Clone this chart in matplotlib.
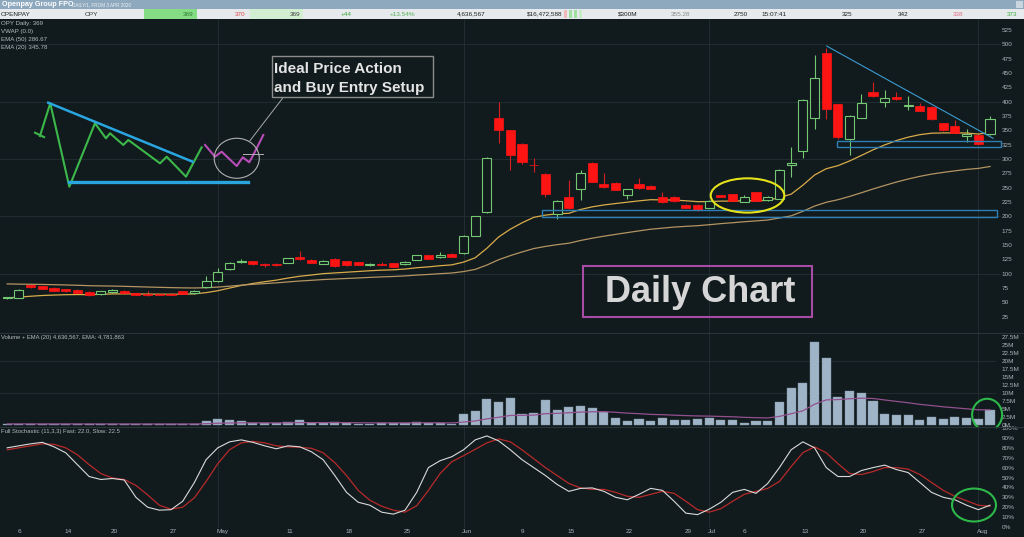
import numpy as np
import matplotlib
matplotlib.use('Agg')
import matplotlib.pyplot as plt
from matplotlib.patches import Rectangle, Ellipse
import matplotlib.transforms as mtrans

plt.rcParams['font.family'] = ['Liberation Sans', 'DejaVu Sans']

# ---------------- data (daily bars from 3 Apr 2020) ----------------
opens = [57, 58, 80, 78, 75.5, 73, 72, 68, 64.5, 68, 70, 66, 64.5, 64, 65, 69, 66, 76, 87, 108,
         121, 121.5, 117.5, 117, 118.5, 129.5, 124, 117.5, 126, 121.5, 120, 115.5, 117.5, 118, 116, 124, 132, 128.5, 135,
         135.5, 166, 207, 371, 350, 326, 290, 274, 204, 234, 248, 293, 256, 258, 238, 256, 253, 233, 234, 220, 220,
         215, 236.5, 238.5, 225.5, 242, 228, 231, 289, 314, 371, 484, 395, 335, 372, 416, 400, 407.5, 392, 393, 391,
         362, 358, 340.5, 342, 343]
highs = [60, 74, 82, 79, 77, 74, 73, 69, 70, 73, 71, 67, 70, 65, 66, 70, 71, 96, 109, 120,
         125, 122, 118, 118, 128, 140, 125, 123, 127, 122, 121, 118, 121, 119, 122, 133, 133, 137, 136,
         167, 201, 303, 400, 351, 327, 301, 275, 228, 263, 281, 294, 276, 259, 248, 266, 254, 243, 235, 221, 221,
         228, 238, 239, 237, 243, 236, 283, 321, 404, 481, 493, 396, 376, 414, 435, 420, 417, 410, 397, 392,
         363, 368, 352, 343, 375]
lows = [55, 57, 75, 73, 69, 68, 65, 61, 63, 67, 65, 62, 61, 62, 62, 64, 65, 75, 86, 107,
        118, 115, 112, 114, 118, 124, 118, 116, 112, 114, 115, 114, 115, 111, 115, 123, 125, 128, 129,
        135, 165, 205, 327, 281, 292, 278, 233, 196, 213, 228, 259, 250, 245, 231, 248, 247, 224, 225, 214, 210,
        214, 233, 226, 225, 227, 227, 230, 269, 301, 353, 369, 335, 307, 371, 408, 391, 403, 385, 383, 368,
        349, 345, 330, 325, 342]
closes = [59, 71, 76, 74, 70, 69, 66, 62, 69, 71, 66, 63, 62, 63, 63, 65, 70, 87, 102, 118.5,
          122.5, 116, 115, 114.5, 127, 125, 118.5, 122.5, 113, 114.5, 115.5, 117.5, 115.5, 112, 121, 132, 126, 133, 129.5,
          165.5, 200, 302, 350, 307, 294, 289, 239, 226, 214, 275, 260, 251, 246, 247, 249, 248, 225, 226, 215, 211,
          227, 234, 227, 233, 227.5, 233, 281, 293, 403, 441, 387, 339, 375, 397, 409, 406, 404.5, 394, 384, 369,
          350, 346, 343.5, 326, 369]
volume_m = [0.2, 0.4, 0.3, 0.3, 0.4, 0.3, 0.3, 0.3, 0.3, 0.3, 0.3, 0.3, 0.3, 0.3, 0.3, 0.3, 0.4, 1.25, 1.8, 1.5,
            1.1, 0.6, 0.5, 0.6, 0.9, 1.5, 0.6, 0.7, 0.9, 0.6, 0.4, 0.4, 0.5, 0.6, 0.7, 1.0, 0.7, 0.5, 0.4,
            3.5, 4.5, 8.1, 7.2, 8.4, 3.3, 3.75, 7.8, 4.6, 5.7, 5.9, 5.3, 4.2, 2.2, 1.25, 1.9, 1.25, 2.3, 1.6, 1.7, 1.8,
            2.3, 1.6, 1.7, 0.6, 1.35, 1.35, 7.3, 11.5, 13.0, 26.0, 20.8, 8.85, 10.7, 9.9, 7.6, 3.4, 3.1, 3.0, 1.6, 2.6,
            1.9, 2.4, 2.1, 1.8, 4.6]
stoch_fast = [80, 82, 84, 85.5, 81, 75, 63, 51, 48, 49, 47.5, 30, 20, 17, 17.5, 26, 45, 68, 80, 86,
              88, 85.5, 82, 79, 82, 81, 76, 68, 52, 35, 25, 22, 15, 13, 17, 35, 60, 67, 71,
              78, 88, 92, 87, 78, 68, 60, 52, 43, 36, 39, 39.5, 36, 30, 27.5, 33, 39, 37, 26, 14, 12.5,
              18, 25, 35, 38, 34, 44, 60, 78, 86, 80, 60, 51, 51, 57, 60, 62.5, 58, 55, 45, 35,
              30, 27.5, 22, 17.5, 22]
stoch_slow = [78, 80, 82, 84, 83.5, 80, 73, 63, 54, 49.5, 48, 42, 32.5, 22, 18, 20, 29.5, 46, 64, 78,
              85, 86.5, 85, 82, 81, 80.5, 79.5, 75, 65, 52, 37, 27, 21, 17, 15, 21.5, 37, 54, 66,
              72, 78.5, 85, 89, 86, 78, 69, 60, 52, 44, 39.5, 38, 38, 35, 31, 30, 33, 36, 34, 26, 17.5,
              15, 18.5, 26, 33, 36, 39, 46, 61, 75, 81, 75, 64, 54, 53, 56, 60, 60, 58.5, 53, 45,
              37, 31, 26.5, 22, 21]
tick_idx = [1, 5, 9, 14, 18, 24, 29, 34, 39, 44, 48, 53, 58, 60, 63, 68, 73, 78, 83]
tick_lbl = ['6', '14', '20', '27', 'May', '11', '18', '25', 'Jun', '9', '15', '22', '29', 'Jul',
            '6', '13', '20', '27', 'Aug']
month_idx = [18, 39, 60, 83]
price_ticks = list(range(25, 526, 25))
vol_ticks = [0, 2.5, 5, 7.5, 10, 12.5, 15, 17.5, 20, 22.5, 25, 27.5]
vol_tick_lbl = ['0M', '2.5M', '5M', '7.5M', '10M', '12.5M', '15M', '17.5M', '20M', '22.5M', '25M', '27.5M']
stoch_ticks = list(range(0, 101, 10))

# annotation drawings (bar index, price)
pat_tick_x, pat_tick_y = [2.38, 3.15], [345.8, 338.1]
pat_x = [2.8, 3.68, 5.31, 7.5, 8.44, 8.79, 9.92, 10.35, 13.06, 13.63, 15.28, 16.62]
pat_y = [340, 397.1, 251.6, 362.2, 336, 344.8, 324.4, 333.1, 292.4, 303.9, 269.1, 320.3]
pat_trend_x, pat_trend_y = [3.51, 15.85], [398.1, 295.2]
pat_supp_x, pat_supp_y = [5.31, 20.56], [260.3, 260.3]
pat_mag_x = [16.91, 17.76, 18.33, 19.62, 20.13, 20.69, 21.03, 21.89]
pat_mag_y = [324.4, 303.9, 312.7, 287.7, 302.9, 294.2, 306.9, 341.8]
trend_x, trend_y = [70.04, 84.26], [497, 336]

BG = '#111a1d'
GRID = '#243034'
LBL = '#aab3b7'
W, H = 1024, 537

fig = plt.figure(figsize=(W / 100, H / 100), dpi=100, facecolor=BG)


def rect(top, bottom, left=0, right=996):
    return [left / W, 1 - bottom / H, (right - left) / W, (bottom - top) / H]


def frect(x0, y0, x1, y1, color, z=1):
    fig.patches.append(Rectangle((x0 / W, 1 - y1 / H), (x1 - x0) / W, (y1 - y0) / H,
                                 transform=fig.transFigure, facecolor=color, edgecolor='none', zorder=z))


def ftext(x, y, s, **kw):
    kw.setdefault('va', 'center')
    fig.text(x / W, 1 - y / H, s, **kw)


ax_p = fig.add_axes(rect(19, 333))
ax_v = fig.add_axes(rect(333, 427))
ax_s = fig.add_axes(rect(427, 528))
n = len(closes)
x = np.arange(n)
for ax in (ax_p, ax_v, ax_s):
    ax.set_facecolor(BG)
    ax.set_xlim(-0.615, 84.51)
    for sp in ax.spines.values():
        sp.set_visible(False)
    ax.set_xticks([])
    ax.yaxis.tick_right()
    ax.tick_params(axis='y', length=0, pad=4.1, labelsize=4.6, labelcolor=LBL)
    for m in month_idx:
        ax.axvline(m, color=GRID, lw=0.6, zorder=0)

# ---------------- price panel ----------------
ax_p.set_ylim(-3.58, 544.13)
ax_p.set_yticks(price_ticks)
ax_p.set_yticklabels([str(t) for t in price_ticks])
for g in [100, 200, 300, 400, 500]:
    ax_p.axhline(g, xmin=0, xmax=1000 / 996, color=GRID, lw=0.6, zorder=0, clip_on=False)

o = np.array(opens, float); c = np.array(closes, float)
hi = np.array(highs, float); lo = np.array(lows, float)
up = c >= o
GREEN = '#74c874'
RED = '#ff1414'
ax_p.vlines(x[up], lo[up], hi[up], color=GREEN, lw=0.8, zorder=2)
ax_p.vlines(x[~up], lo[~up], hi[~up], color='#d42020', lw=0.8, zorder=2)
body = np.maximum(np.abs(c - o), 1.0)
ax_p.bar(x[up], body[up], bottom=np.minimum(o, c)[up], width=0.78, facecolor=BG,
         edgecolor=GREEN, lw=0.8, zorder=3)
ax_p.bar(x[~up], body[~up], bottom=np.minimum(o, c)[~up], width=0.78, facecolor=RED,
         edgecolor=RED, lw=0.5, zorder=3)


def ema(vals, span, seed):
    a = 2.0 / (span + 1)
    e = seed
    out = []
    for v in vals:
        e = e + a * (v - e)
        out.append(e)
    return np.array(out)


ema20 = ema(closes, 20, 57.5)
ema50 = ema(closes, 50, 83.0)
ax_p.plot(x, ema20, color='#d9ac4a', lw=0.9, zorder=2.5)
ax_p.plot(x, ema50, color='#b39462', lw=0.9, zorder=2.5)

# pattern sketch
ax_p.plot(pat_tick_x, pat_tick_y, color='#3cb84a', lw=1.5, zorder=5)
ax_p.plot(pat_x, pat_y, color='#3cb84a', lw=1.5, zorder=5)
ax_p.plot(pat_trend_x, pat_trend_y, color='#29a6e0', lw=1.8, zorder=5)
ax_p.plot(pat_supp_x, pat_supp_y, color='#29a6e0', lw=2.4, zorder=5)
ax_p.plot(pat_mag_x, pat_mag_y, color='#b84db8', lw=1.5, zorder=5)
ax_p.plot([20.13, 21.84], [308.7, 308.7], color='#b0b0b0', lw=0.7, zorder=5)
ax_p.add_patch(Ellipse((19.62, 301.2), 3.85, 69.8, fill=False, edgecolor='#b0b0b0', lw=0.8, zorder=5))
ax_p.plot([20.75, 23.6], [331.9, 407.6], color='#a8a8a8', lw=0.7, zorder=5)
ax_p.add_patch(Rectangle((22.61, 408.6), 36.42 - 22.61, 479.6 - 408.6, facecolor=BG,
                         edgecolor='#8c8c8c', lw=1.0, zorder=6))
ax_p.text(22.8, 449.4, 'Ideal Price Action', fontsize=11, fontweight='bold', color='#e4e4e4',
          ha='left', va='baseline', zorder=7)
ax_p.text(22.8, 417.3, 'and Buy Entry Setup', fontsize=11, fontweight='bold', color='#e4e4e4',
          ha='left', va='baseline', zorder=7)

# chart annotations
ax_p.add_patch(Ellipse((63.27, 236.3), 6.29, 59.8, fill=False, edgecolor='#e5e21a', lw=1.5, zorder=6))
ax_p.add_patch(Rectangle((45.71, 199.6), 84.6 - 45.71, 210.7 - 199.6, facecolor='none',
                         edgecolor='#2f7fb5', lw=1.0, zorder=4, clip_on=False))
ax_p.add_patch(Rectangle((70.9, 321.4), 84.9 - 70.9, 330.8 - 321.4, facecolor='none',
                         edgecolor='#2f7fb5', lw=1.0, zorder=4, clip_on=False))
ax_p.plot(trend_x, trend_y, color='#3a9cd0', lw=0.8, zorder=4)
ax_p.add_patch(Rectangle((49.19, 23.8), 68.76 - 49.19, 113.8 - 23.8, facecolor='none',
                         edgecolor='#a64ca6', lw=1.5, zorder=6))
ax_p.text(59.21, 51.0, 'Daily Chart', fontsize=26, fontweight='bold', color='#d6d6d6',
          ha='center', va='baseline', zorder=7)

# ---------------- volume panel ----------------
ax_v.set_ylim(-0.625, 28.75)
ax_v.set_yticks(vol_ticks)
ax_v.set_yticklabels(vol_tick_lbl)
for g in [10, 20]:
    ax_v.axhline(g, color=GRID, lw=0.6, zorder=0)
ax_v.bar(x, volume_m, width=0.78, color='#a0b4c8', edgecolor='#7f93a6', lw=0.3, zorder=2)
vema = ema(volume_m, 20, 0.35)
ax_v.plot(x, vema, color='#93508f', lw=0.9, zorder=3)
ax_v.add_patch(Ellipse((83.75, 3.2), 2.56, 10.0, fill=False, edgecolor='#2db84a', lw=1.5,
                       zorder=5, clip_on=False))

# ---------------- stochastic panel ----------------
ax_s.set_ylim(-1.01, 101.01)
ax_s.set_yticks(stoch_ticks)
ax_s.set_yticklabels([f'{t}%' for t in stoch_ticks])
ax_s.plot(x, stoch_slow, color='#b82a2a', lw=0.9, zorder=2)
ax_s.plot(x, stoch_fast, color='#dadada', lw=0.8, zorder=3)
ax_s.add_patch(Ellipse((82.63, 22.2), 3.76, 33.3, fill=False, edgecolor='#2db84a', lw=1.5,
                       zorder=5, clip_on=False))

tr = mtrans.blended_transform_factory(ax_s.transData, fig.transFigure)
for i, lbl in zip(tick_idx, tick_lbl):
    ax_s.text(i - 0.12, 1 - 531.5 / H, lbl, transform=tr, fontsize=4.6, color=LBL,
              ha='left', va='center', clip_on=False)

# panel separators
for yy in [333, 427]:
    fig.add_artist(plt.Line2D([0, 1], [1 - yy / H, 1 - yy / H], transform=fig.transFigure,
                              color='#2a3539', lw=0.8))

# panel labels
for yy, s in zip([24, 32, 40, 48], ['OPY Daily: 369', 'VWAP (0.0)', 'EMA (50) 286.67', 'EMA (20) 345.78']):
    ftext(1, yy, s, fontsize=4.4, color='#b4bcc0')
ftext(1, 337.5, 'Volume + EMA (20) 4,636,567, EMA: 4,781,863', fontsize=4.2, color='#b4bcc0')
ftext(1, 432, 'Full Stochastic (11,3,3) Fast: 22.0, Slow: 22.5', fontsize=4.2, color='#b4bcc0')

# ---------------- header ----------------
frect(0, 0, 1024, 9.3, '#8ea8be')
frect(0, 9.3, 1024, 18.8, '#e6eaec')
frect(1016, 1, 1023, 7.5, '#c9d5df', z=2)
ftext(2, 4.8, 'Openpay Group FPO', fontsize=5.2, fontweight='bold', color='white')
ftext(72, 5.0, 'DAILY/1, FROM 3 APR 2020', fontsize=3.3, color='#eef3f6')
frect(144, 9.3, 197, 18.8, '#84dd84', z=2)
frect(250, 9.3, 303, 18.8, '#d2efd2', z=2)
for x0, col in [(564, '#f3b8b8'), (569, '#9ee09e'), (574, '#9ee09e'), (579, '#c6ecc6')]:
    frect(x0, 10.5, x0 + 3, 17.5, col, z=2)
hy = 14.1
hdr = [(1, 'OPENPAY', '#202020', 'left'), (85, 'OPY', '#303030', 'left'),
       (193, '369', '#2e7d2e', 'right'), (245, '370', '#e04848', 'right'),
       (300, '369', '#404040', 'right'), (352, '+44', '#3fa63f', 'right'),
       (415, '+13.54%', '#52b052', 'right'), (485, '4,636,567', '#202020', 'right'),
       (562, '$16,472,588', '#202020', 'right'), (638, '$300M', '#202020', 'right'),
       (690, '355.28', '#8a8a8a', 'right'), (748, '2750', '#202020', 'right'),
       (787, '15:07:41', '#202020', 'right'), (852, '325', '#202020', 'right'),
       (908, '342', '#202020', 'right'), (963, '338', '#e07088', 'right'),
       (1017, '373', '#3fb03f', 'right')]
for hx, s, col, ha in hdr:
    fig.text(hx / W, 1 - hy / H, s, fontsize=4.6, color=col, ha=ha, va='center', zorder=3)

fig.savefig('out.png', dpi=100, facecolor=BG)
